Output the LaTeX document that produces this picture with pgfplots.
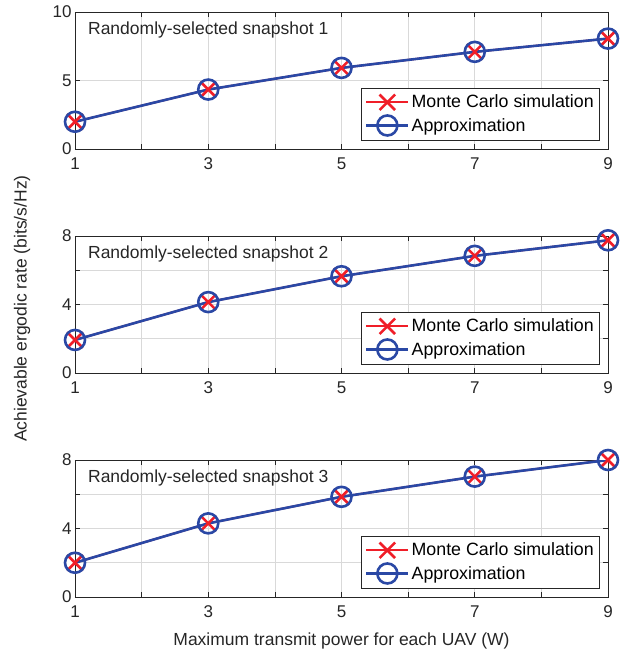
\documentclass[border=0pt]{standalone}
\usepackage{fontspec}
\setmainfont{Liberation Sans}
\usepackage{pgfplots}
\usepackage{pgfplotstable}
\pgfplotsset{compat=1.18}
\definecolor{mred}{RGB}{240,30,40}
\definecolor{mblue}{RGB}{42,72,165}
\definecolor{axgray}{RGB}{38,38,38}

\pgfplotstableread{
x mc ap
1 1.99 1.99
3 4.34 4.34
5 5.92 5.92
7 7.09 7.09
9 8.06 8.06
}\snapA
\pgfplotstableread{
x mc ap
1 1.93 1.93
3 4.14 4.14
5 5.65 5.65
7 6.84 6.84
9 7.75 7.75
}\snapB
\pgfplotstableread{
x mc ap
1 2.00 2.00
3 4.30 4.30
5 5.85 5.85
7 7.03 7.03
9 8.00 8.00
}\snapC

\tikzset{snaplabel/.style={font=\fontsize{17.5}{20}\selectfont, text=axgray, anchor=west}}

\pgfplotsset{
 panel/.style={
  width=533pt, height=137pt, scale only axis,
  xmin=1, xmax=9, xtick={1,...,9}, xticklabels={1,,3,,5,,7,,9},
  grid=major, grid style={black!15, line width=0.6pt},
  axis line style={axgray, line width=0.6pt},
  tick style={axgray, line width=0.6pt},
  tick align=inside, major tick length=5pt,
  tick label style={font=\fontsize{17}{20}\selectfont, text=axgray},
  xticklabel style={yshift=-5pt},
  /pgf/number format/assume math mode=true,
  legend style={at={(0.985,0.06)}, anchor=south east, draw=axgray, line width=0.6pt,
    font=\fontsize{17.8}{20}\selectfont, text=black, cells={anchor=west},
    row sep=4pt, inner xsep=4pt, inner ysep=5pt},
  legend image code/.code={\draw[mark repeat=2,mark phase=2] plot coordinates {(0pt,0pt) (21pt,0pt) (42pt,0pt)};},
 },
 mcs/.style={color=mred, line width=2pt, mark=x, mark size=11pt, mark options={line width=2.6pt}},
 aps/.style={color=mblue, line width=2.6pt, mark=o, mark size=10pt, mark options={line width=2.6pt}},
}

\begin{document}
\begin{tikzpicture}
\useasboundingbox (-75pt,12pt) rectangle (566pt,-645pt);
\begin{axis}[panel, at={(0pt,0pt)}, anchor=north west, ymin=0, ymax=10, ytick={0,5,10}]
\addplot[mcs] table[x=x,y=mc]{\snapA};
\addplot[aps] table[x=x,y=ap]{\snapA};
\addlegendentry{Monte Carlo simulation}
\addlegendentry{Approximation}
\node[snaplabel] at (rel axis cs:0.018,0.87) {Randomly-selected snapshot 1};
\end{axis}
\begin{axis}[panel, at={(0pt,-224pt)}, anchor=north west, ymin=0, ymax=8, ytick={0,2,4,6,8}, yticklabels={0,,4,,8},
  ylabel={Achievable ergodic rate (bits/s/Hz)}, ylabel style={font=\fontsize{17.5}{20}\selectfont, text=axgray, at={(axis description cs:0,0.47)}, anchor=center, yshift=53pt}]
\addplot[mcs] table[x=x,y=mc]{\snapB};
\addplot[aps] table[x=x,y=ap]{\snapB};
\addlegendentry{Monte Carlo simulation}
\addlegendentry{Approximation}
\node[snaplabel] at (rel axis cs:0.018,0.87) {Randomly-selected snapshot 2};
\end{axis}
\begin{axis}[panel, at={(0pt,-448pt)}, anchor=north west, ymin=0, ymax=8, ytick={0,2,4,6,8}, yticklabels={0,,4,,8},
  xlabel={Maximum transmit power for each UAV (W)}, xlabel style={font=\fontsize{17.5}{20}\selectfont, text=axgray, yshift=-8pt}]
\addplot[mcs] table[x=x,y=mc]{\snapC};
\addplot[aps] table[x=x,y=ap]{\snapC};
\addlegendentry{Monte Carlo simulation}
\addlegendentry{Approximation}
\node[snaplabel] at (rel axis cs:0.018,0.87) {Randomly-selected snapshot 3};
\end{axis}
\end{tikzpicture}
\end{document}
